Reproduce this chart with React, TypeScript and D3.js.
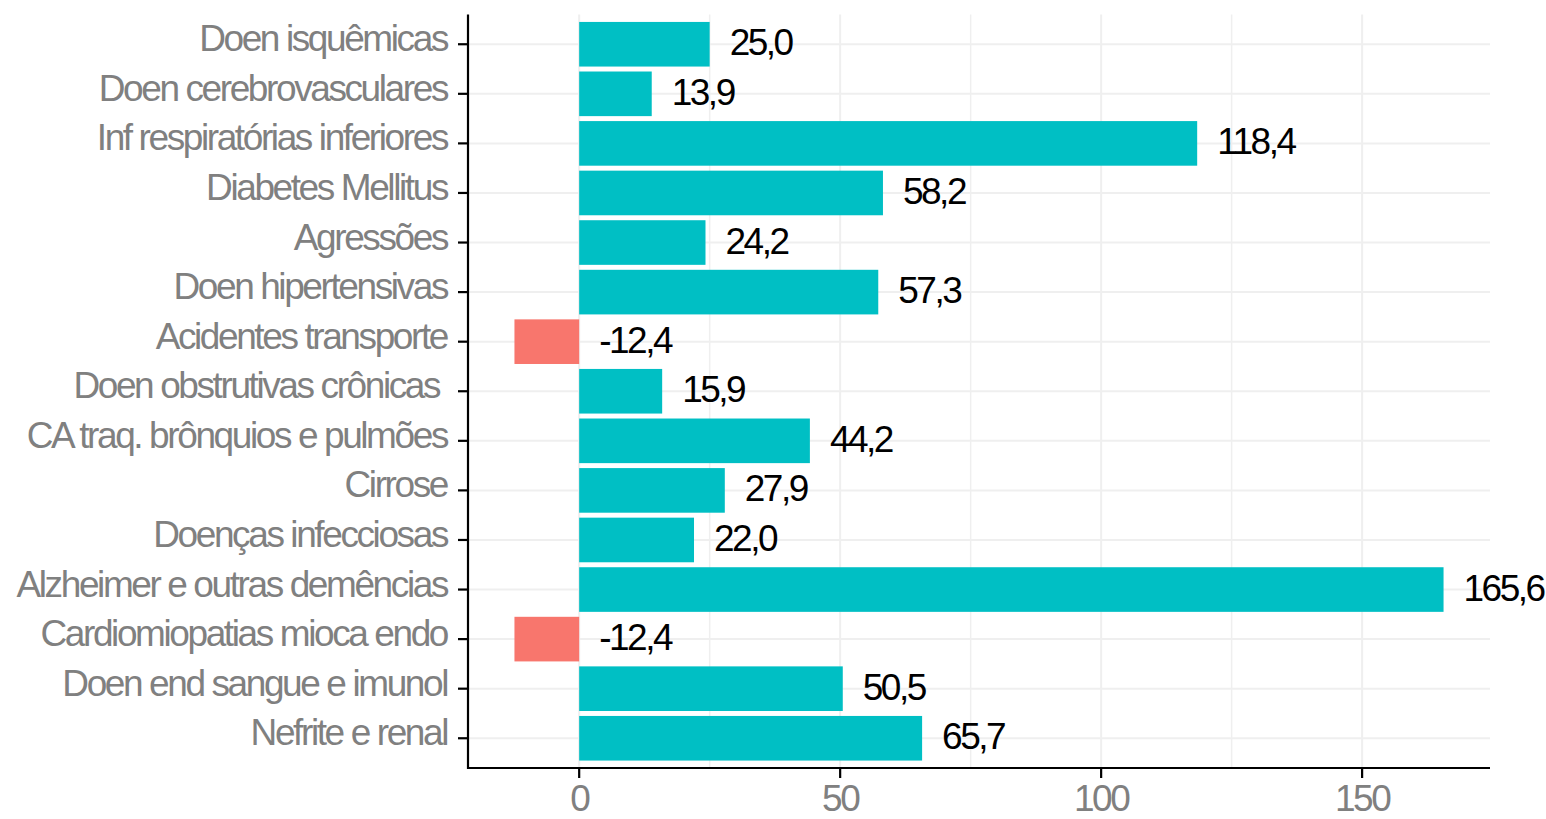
import React from "react";
import * as d3 from "d3";

const categories = [
  "Doen isquêmicas",
  "Doen cerebrovasculares",
  "Inf respiratórias inferiores",
  "Diabetes Mellitus",
  "Agressões",
  "Doen hipertensivas",
  "Acidentes transporte",
  "Doen obstrutivas crônicas ",
  "CA traq. brônquios e pulmões",
  "Cirrose",
  "Doenças infecciosas",
  "Alzheimer e outras demências",
  "Cardiomiopatias mioca endo",
  "Doen end sangue e imunol",
  "Nefrite e renal",
];

const values = [25.0, 13.9, 118.4, 58.2, 24.2, 57.3, -12.4, 15.9, 44.2, 27.9, 22.0, 165.6, -12.4, 50.5, 65.7];

const xTicks = [0, 50, 100, 150];
const xMinorTicks = [25, 75, 125];

const W = 1546;
const H = 819;
const left = 468;
const right = 1490;
const top = 14.5;
const bottom = 768;

const POS = "#00BFC4";
const NEG = "#F8766D";
const GRID = "#EFEFEF";
const GRAY = "#808080";
const FONT = "'Liberation Sans', Arial, sans-serif";

export default function App() {
  const minV = d3.min(values) as number;
  const maxV = d3.max(values) as number;
  const span = maxV - minV;
  const x = d3.scaleLinear().domain([minV - span * 0.05, maxV + span * 0.05]).range([left, right]);
  const y = d3
    .scaleBand<string>()
    .domain(categories)
    .range([top, bottom])
    .paddingInner(0.1)
    .paddingOuter(0.15);
  const bw = y.bandwidth();
  const fmt = (v: number) => d3.format(".1f")(v).replace(".", ",").replace("−", "-");

  return (
    <svg width={W} height={H} style={{ position: "absolute", left: 0, top: 0, background: "#fff" }}>
      <rect x={0} y={0} width={W} height={H} fill="#fff" />
      {/* grid */}
      {xMinorTicks.map((t) => (
        <line key={"m" + t} x1={x(t)} x2={x(t)} y1={top} y2={bottom} stroke={GRID} strokeWidth={1.5} />
      ))}
      {xTicks.map((t) => (
        <line key={"g" + t} x1={x(t)} x2={x(t)} y1={top} y2={bottom} stroke={GRID} strokeWidth={2} />
      ))}
      {categories.map((c) => (
        <line
          key={"h" + c}
          x1={left}
          x2={right}
          y1={(y(c) as number) + bw / 2}
          y2={(y(c) as number) + bw / 2}
          stroke={GRID}
          strokeWidth={2}
        />
      ))}
      {/* bars */}
      {categories.map((c, i) => {
        const v = values[i];
        const x0 = x(Math.min(0, v));
        const x1 = x(Math.max(0, v));
        return (
          <rect key={"b" + c} x={x0} y={y(c)} width={x1 - x0} height={bw} fill={v < 0 ? NEG : POS} />
        );
      })}
      {/* value labels */}
      {categories.map((c, i) => {
        const v = values[i];
        return (
          <text
            key={"v" + c}
            x={x(Math.max(0, v)) + 20}
            y={(y(c) as number) + bw / 2 + 11}
            fontFamily={FONT}
            fontSize={37}
            letterSpacing={-2.5}
            fill="#000"
          >
            {fmt(v)}
          </text>
        );
      })}
      {/* axes */}
      <line x1={left} x2={left} y1={top} y2={bottom + 1} stroke="#000" strokeWidth={2.2} />
      <line x1={left - 1} x2={right} y1={bottom} y2={bottom} stroke="#000" strokeWidth={2.2} />
      {categories.map((c) => {
        const cy = (y(c) as number) + bw / 2;
        return (
          <g key={"yt" + c}>
            <line x1={left - 10} x2={left} y1={cy} y2={cy} stroke="#000" strokeWidth={2.2} />
            <text
              x={447}
              y={cy + 7}
              textAnchor="end"
              fontFamily={FONT}
              fontSize={37}
              letterSpacing={-2.4}
              fill={GRAY}
              style={{ whiteSpace: "pre" }}
            >
              {c}
            </text>
          </g>
        );
      })}
      {xTicks.map((t) => (
        <g key={"xt" + t}>
          <line x1={x(t)} x2={x(t)} y1={bottom} y2={bottom + 10} stroke="#000" strokeWidth={2.2} />
          <text
            x={x(t)}
            y={811}
            textAnchor="middle"
            fontFamily={FONT}
            fontSize={37}
            letterSpacing={-2.5}
            fill={GRAY}
          >
            {t}
          </text>
        </g>
      ))}
    </svg>
  );
}
